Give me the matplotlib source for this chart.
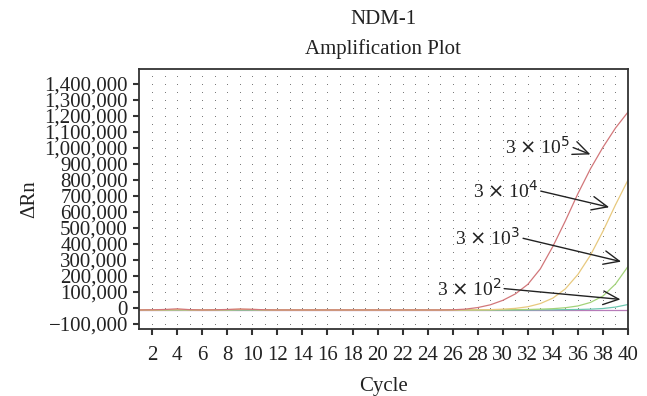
import matplotlib

matplotlib.use("Agg")
import matplotlib.pyplot as plt  # noqa: E402
import numpy as np  # noqa: E402
from matplotlib.ticker import FuncFormatter, MultipleLocator  # noqa: E402

plt.rcParams["font.family"] = ["Liberation Serif", "DejaVu Serif"]

# --- data (delta Rn per cycle) ---
cycles = list(range(1, 41))

# 3 x 10^5 (red)
red = [-12000, -11000, -9000, -5000, -10000, -12000, -11000, -9000, -6000, -8000,
       -11000, -12000, -12000, -12000, -12000, -12000, -12000, -12000, -12000, -12000,
       -12000, -12000, -12000, -12000, -12000, -11000, -7000, 3000, 20000, 48000,
       88000, 148000, 245000, 385000, 545000, 715000, 870000, 1005000, 1125000, 1225000]
# 3 x 10^4 (yellow)
yellow = [-12000, -12000, -11000, -10000, -11000, -12000, -11000, -10000, -8000, -9000,
          -11000, -12000, -12000, -12000, -12000, -12000, -12000, -12000, -12000, -12000,
          -12000, -12000, -12000, -12000, -12000, -12000, -12000, -11000, -10000, -7000,
          -2000, 8000, 28000, 62000, 120000, 210000, 330000, 480000, 645000, 800000]
# 3 x 10^3 (green)
green = [-12000, -12000, -12000, -11000, -12000, -12000, -12000, -12000, -11000, -11000,
         -12000, -12000, -12000, -12000, -12000, -12000, -12000, -12000, -12000, -12000,
         -12000, -12000, -12000, -12000, -12000, -12000, -12000, -12000, -12000, -11000,
         -10000, -9000, -7000, -4000, 2000, 13000, 35000, 75000, 150000, 260000]
# 3 x 10^2 (teal)
teal = [-12000, -12000, -12000, -12000, -12000, -12000, -12000, -12000, -12000, -12000,
        -12000, -12000, -12000, -12000, -12000, -12000, -12000, -12000, -12000, -12000,
        -12000, -12000, -12000, -12000, -12000, -12000, -12000, -12000, -12000, -12000,
        -12000, -12000, -11000, -11000, -10000, -9000, -7000, -3000, 6000, 22000]
# negative control (purple)
purple = [-13000] * 40

series = [
    (purple, "#b77bb8"),
    (teal, "#6cc7b0"),
    (green, "#a3d37a"),
    (yellow, "#e8c97e"),
    (red, "#d2777a"),
]

labels = ["5", "4", "3", "2"]
label_xy = [(32.8, 1010000), (30.2, 735000), (28.8, 440000), (27.3, 123000)]
tip_xy = [(37.0, 960000), (38.5, 630000), (39.45, 290000), (39.4, 54000)]

fig = plt.figure(figsize=(6.47, 3.96), dpi=100)
ax = fig.add_axes([139 / 647, 1 - 329 / 396, (628 - 139) / 647, (329 - 69) / 396])

# dot lattice
gx, gy = np.meshgrid(np.arange(2, 40, 1), np.arange(-100000, 1500000, 50000))
ax.scatter(gx.ravel(), gy.ravel(), s=0.35, color="#555555", linewidths=0, zorder=1)

for vals, col in series:
    ax.plot(cycles, vals, color=col, lw=0.9, zorder=2)

for lab, (tx, ty), (hx, hy) in zip(labels, label_xy, tip_xy):
    ax.annotate(rf"3 $\times$ 10$^{{{lab}}}$", xy=(hx, hy), xytext=(tx, ty),
                ha="center", va="center", fontsize=14, color="#222222",
                arrowprops=dict(arrowstyle="->,head_length=0.8,head_width=0.35",
                                color="#222222", lw=1.0, shrinkA=0, shrinkB=0,
                                relpos=(1.0, 0.5)),
                zorder=3)

ax.set_xlim(0.95, 40)
ax.set_ylim(-131000, 1494000)
ax.xaxis.set_major_locator(MultipleLocator(2))
ax.yaxis.set_major_locator(MultipleLocator(100000))
ax.yaxis.set_major_formatter(FuncFormatter(
    lambda v, _: f"{int(round(v)):,}".replace("-", "\u2212")))
ax.tick_params(direction="out", length=4, width=1.5, color="#333333",
               labelsize=15, labelcolor="#222222", pad=4)
ax.tick_params(axis="x", pad=8)
for s in ax.spines.values():
    s.set_color("#333333")
    s.set_linewidth(1.3)

ax.set_xlabel("Cycle", fontsize=15, color="#222222", labelpad=9)
ax.set_ylabel("\u0394Rn", fontsize=15, color="#222222", labelpad=4)
fig.text(383 / 647, 1 - 20 / 396, "NDM-1", ha="center", va="center",
         fontsize=15, color="#222222")
fig.text(383 / 647, 1 - 49 / 396, "Amplification Plot", ha="center", va="center",
         fontsize=15, color="#222222")

fig.savefig("out.png", dpi=100)
